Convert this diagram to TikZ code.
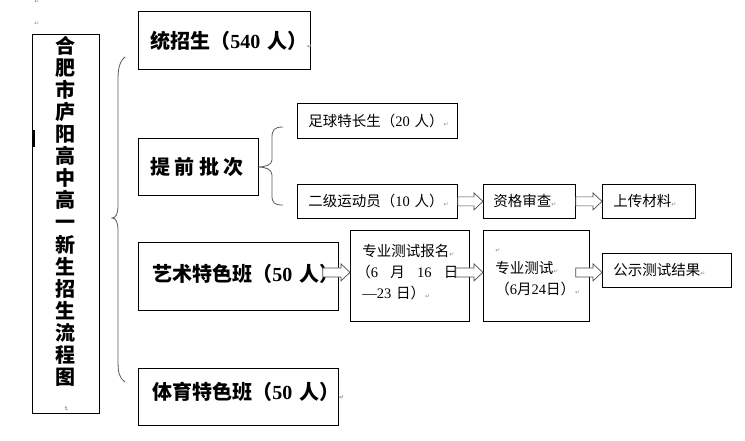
\documentclass[tikz,border=0pt]{standalone}
\usepackage{fontspec}
\setmainfont{Liberation Serif}
\newfontfamily\cjk{Noto Sans CJK SC}
\newfontfamily\dejavu{DejaVu Sans}
\usetikzlibrary{calc}

\newcommand\ret{{\dejavu\fontsize{6}{6}\selectfont\color{black!45}↵}}
\newcommand\num[1]{{\rmfamily #1}}

\tikzset{
  box/.style={draw, line width=0.8pt, anchor=north west, inner xsep=12pt, inner ysep=0pt, align=left},
  big/.style={box, font=\cjk\bfseries\fontsize{20}{24}\selectfont},
  small/.style={box, inner xsep=11pt, font=\cjk\fontsize{14.5}{21}\selectfont},
  brace/.style={draw=black!65, line width=0.8pt},
  hollow/.style={draw=black!70, fill=white, line width=0.7pt,
    to path={let \p1=(\tikztostart), \p2=(\tikztotarget) in
      (\x1,\y1+4.5pt) -- (\x2-9pt,\y1+4.5pt) -- (\x2-9pt,\y1+8.5pt) -- (\x2,\y1)
      -- (\x2-9pt,\y1-8.5pt) -- (\x2-9pt,\y1-4.5pt) -- (\x1,\y1-4.5pt) -- cycle}}
}

\begin{document}
\begin{tikzpicture}[x=1pt,y=-1pt]
\useasboundingbox (0,0) rectangle (745,441);
\node[inner sep=0pt] (ret1) at (37,2) {\ret};
\node[inner sep=0pt] (ret2) at (37,24) {\ret};

% title
\node[draw, line width=0.8pt, anchor=north west, minimum width=67pt, minimum height=379pt, inner sep=0pt,
  align=center, font=\cjk\bfseries\fontsize{20}{22.1}\selectfont] (title) at (32,34)
  {合\\肥\\市\\庐\\阳\\高\\中\\高\\一\\新\\生\\招\\生\\流\\程\\图\\\rotatebox{-90}{\ret}};
\fill (32,130) rectangle (35,147);

% big brace
\draw[brace] (125,57) .. controls (119,62) and (118,70) .. (118,80) -- (118,205)
  .. controls (118,214) and (116,218) .. (112,218) .. controls (116,218) and (118,222) .. (118,231)
  -- (118,360) .. controls (118,372) and (119,378) .. (125,382);

\node[big, text width=148pt, minimum height=58pt] (tongzhao) at (138,11) {统招生（\num{540}~人）\ret};
\node[big, text width=96pt, minimum height=57pt] (tiqian) at (138,138) {提\hspace{4.5pt}前\hspace{4.5pt}批\hspace{4.5pt}次};
\node[big, inner xsep=14pt, text width=172pt, minimum height=68pt] (yishu) at (138,242) {艺术特色班（\num{50}~人）\\[-16pt]\mbox{}};
\node[big, inner xsep=14pt, text width=172pt, minimum height=57pt] (tiyu) at (138,368) {\mbox{}\\[-16pt]体育特色班（\num{50}~人）\ret};

% small brace
\draw[brace] (283,127) .. controls (274,127) and (272,130) .. (272,138) -- (272,160)
  .. controls (272,165) and (265,167) .. (258,167) .. controls (265,167) and (272,169) .. (272,175)
  -- (272,195) .. controls (272,203) and (274,205) .. (283,205);

\node[small, text width=138pt, minimum height=35pt] (zuqiu) at (297,103) {足球特长生（\num{20}~人）\ret};
\node[small, text width=138pt, minimum height=34pt] (erji) at (297,184) {二级运动员（\num{10}~人）\ret};
\node[small, inner xsep=10pt, text width=72pt, minimum height=34pt] (zige) at (483,184) {资格审查\ret};
\node[small, text width=71pt, minimum height=34pt] (chuan) at (602,184) {上传材料\ret};

\node[small, inner xsep=12pt, text width=95pt, minimum height=91pt] (baoming) at (350,230)
  {专业测试报名\ret\\\leavevmode\hbox to 96pt{\hspace{-6pt}（\num{6}\hfill 月\hfill\num{16}\hfill 日}\\\num{—23}~日）\ret\\[-12pt]\mbox{}};
\node[small, inner xsep=12pt, text width=82pt, minimum height=91pt] (ceshi) at (483,230)
  {\ret\\专业测试\ret\\（\num{6}月\num{24}日）\ret\\[-12pt]\mbox{}};
\node[small, text width=107pt, minimum height=34pt] (gongshi) at (602,253) {公示测试结果\ret};

% arrows
\draw[hollow] (erji.east) to (zige.west);
\draw[hollow] (zige.east) to (chuan.west);
\draw[hollow] ([xshift=-16pt,yshift=4pt]yishu.east) to (baoming.west);
\draw[hollow] ([xshift=-14pt,yshift=3.5pt]baoming.east) to (ceshi.west);
\draw[hollow] ([xshift=-14pt,yshift=3.5pt]ceshi.east) to (gongshi.west);
\end{tikzpicture}
\end{document}
